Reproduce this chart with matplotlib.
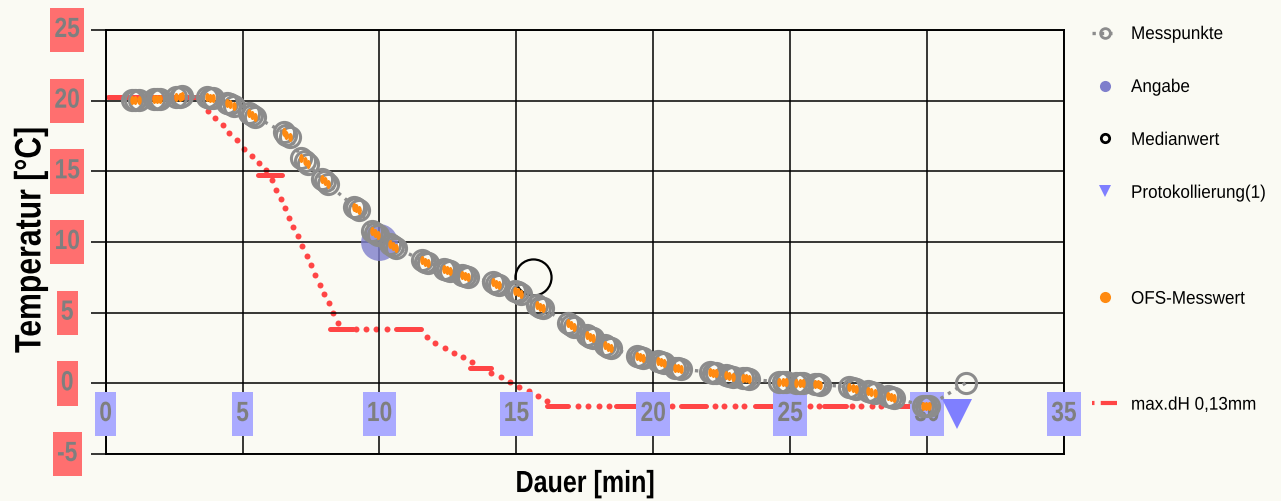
import matplotlib
matplotlib.use("Agg")
import matplotlib.pyplot as plt
from matplotlib.lines import Line2D
from matplotlib.path import Path
from matplotlib.markers import MarkerStyle
from matplotlib.transforms import Affine2D
from matplotlib.patheffects import AbstractPathEffect

plt.rcParams["font.family"] = ["Liberation Sans", "DejaVu Sans"]

# --- data ---
# Messpunkte (gray open circles), time in min, temperature in degC
mess_x = [0.95, 1.07, 1.20, 1.75, 1.87, 1.98, 2.58, 2.70, 2.80, 3.70, 3.82, 3.93,
          4.42, 4.55, 4.67, 5.22, 5.33, 5.45, 6.50, 6.60, 6.72, 7.15, 7.27, 7.38,
          7.90, 8.00, 8.12, 9.08, 9.16, 9.26, 9.72, 9.83, 9.94, 10.40, 10.50, 10.62,
          11.55, 11.65, 11.76, 12.35, 12.45, 12.56, 13.00, 13.11, 13.22, 14.15, 14.27, 14.38,
          14.95, 15.06, 15.17, 15.75, 15.85, 15.96, 16.90, 17.00, 17.12, 17.58, 17.68, 17.80,
          18.24, 18.34, 18.45, 19.40, 19.50, 19.62, 20.18, 20.29, 20.40, 20.80, 20.90, 21.00,
          22.06, 22.18, 22.30, 22.66, 22.78, 22.90, 23.28, 23.39, 23.50, 24.60, 24.73, 24.85,
          25.22, 25.34, 25.46, 25.90, 26.00, 26.10, 27.16, 27.28, 27.40, 27.85, 27.96, 28.08,
          28.58, 28.69, 28.80, 29.86, 29.96, 30.06, 31.42]
mess_y = [20.04, 20.05, 20.05, 20.12, 20.14, 20.15, 20.27, 20.28, 20.30, 20.25, 20.22, 20.18,
          19.85, 19.75, 19.63, 19.12, 19.00, 18.88, 17.75, 17.60, 17.42, 15.95, 15.72, 15.50,
          14.45, 14.30, 14.10, 12.50, 12.40, 12.30, 10.80, 10.64, 10.50, 9.85, 9.74, 9.60,
          8.70, 8.62, 8.55, 8.12, 8.04, 7.95, 7.70, 7.61, 7.52, 7.15, 7.06, 6.98,
          6.55, 6.43, 6.30, 5.55, 5.43, 5.30, 4.25, 4.13, 4.00, 3.42, 3.31, 3.20,
          2.68, 2.60, 2.50, 1.90, 1.84, 1.78, 1.58, 1.53, 1.47, 1.12, 1.06, 1.00,
          0.80, 0.75, 0.70, 0.56, 0.52, 0.48, 0.38, 0.35, 0.31, 0.08, 0.07, 0.06,
          0.02, 0.00, -0.01, -0.05, -0.07, -0.09, -0.25, -0.31, -0.37, -0.52, -0.60, -0.68,
          -0.88, -0.95, -1.03, -1.58, -1.59, -1.60, 0.04]

# OFS-Messwert: same samples, the last Messpunkt has no OFS value
ofs_x = mess_x[:-1]
ofs_y = mess_y[:-1]

angabe_x, angabe_y = [10.0], [10.0]
median_x, median_y = [15.6], [7.55]
protokoll_x, protokoll_y = [31.1], [-2.15]

# max.dH 0,13mm: plateaus (dense runs) and single points
dh_plateau_start = [0.10, 5.56, 8.19, 10.62, 13.30, 16.10, 18.65, 21.02, 23.70, 26.25, 28.90]
dh_plateau_end = [3.45, 6.44, 9.03, 11.53, 14.09, 16.88, 19.38, 21.93, 24.50, 27.05, 29.80]
dh_plateau_level = [20.25, 14.75, 3.85, 3.83, 1.10, -1.61, -1.61, -1.61, -1.61, -1.61, -1.61]
dh_x = [3.75, 4.00, 4.27, 4.50, 4.78, 5.05, 5.33, 5.60, 5.84, 6.06, 6.22, 6.39, 6.54,
        6.69, 6.84, 7.01, 7.18, 7.34, 7.49, 7.66, 7.83, 7.99, 8.15, 8.31, 8.47,
        9.14, 9.49, 9.89, 10.26,
        11.72, 12.02, 12.38, 12.72, 13.05, 13.39,
        14.09, 14.42, 14.76, 15.09, 15.45, 15.79, 16.12,
        17.25, 17.61, 18.00, 18.38, 20.69,
        22.24, 22.60, 22.97, 23.33, 25.71, 26.07,
        27.24, 27.60, 27.97, 28.33]
dh_y = [19.30, 18.80, 18.30, 17.70, 17.20, 16.60, 16.10, 15.60, 15.10, 14.42, 13.70, 13.05, 12.38,
        11.72, 11.08, 10.40, 9.69, 9.03, 8.34, 7.66, 6.97, 6.31, 5.65, 4.99, 4.30,
        3.87, 3.87, 3.87, 3.87,
        3.26, 2.88, 2.48, 2.13, 1.84, 1.49,
        0.75, 0.43, 0.11, -0.24, -0.52, -0.88, -1.26,
        -1.61, -1.61, -1.61, -1.61, -1.61,
        -1.61, -1.61, -1.61, -1.61, -1.61, -1.61,
        -1.61, -1.61, -1.61, -1.61]

x_ticks = [0, 5, 10, 15, 20, 25, 30, 35]
x_tick_labels = ["0", "5", "10", "15", "20", "25", "30", "35"]
y_ticks = [-5, 0, 5, 10, 15, 20, 25]
y_tick_labels = ["-5", "0", "5", "10", "15", "20", "25"]

bg = "#fafaf3"
gray = "#8c8c8c"
red = "#ff4545"
orange = "#ff8a10"
violet = "#7f7fcc"
blue_tri = "#7f7fff"
NARROW = 0.82  # the original uses a condensed face
LEG_FS = 13.2


class Narrow(AbstractPathEffect):
    """squeeze text horizontally (no condensed font installed)"""

    def __init__(self, sx=NARROW, anchor="center"):
        super().__init__()
        self.sx = sx
        self.anchor = anchor

    def draw_path(self, renderer, gc, tpath, affine, rgbFace=None):
        ext = tpath.get_extents()
        cx = 0.0 if self.anchor == "left" else 0.5 * (ext.x0 + ext.x1)
        squeeze = Affine2D().translate(-cx, 0).scale(self.sx, 1).translate(cx, 0)
        renderer.draw_path(gc, tpath, squeeze + affine, rgbFace)


def label_box(x0, y0, width, height, mutation_size):
    # box around the squeezed text, larger vertical padding
    cx = x0 + width / 2
    half = NARROW * width / 2 + 0.15 * mutation_size
    py = 0.33 * mutation_size
    bx0, bx1 = cx - half, cx + half
    by0, by1 = y0 - py, y0 + height + py
    return Path([(bx0, by0), (bx1, by0), (bx1, by1), (bx0, by1), (bx0, by0)],
                [Path.MOVETO, Path.LINETO, Path.LINETO, Path.LINETO, Path.CLOSEPOLY])


fig = plt.figure(figsize=(12.81, 5.01), dpi=100, facecolor=bg)
ax = fig.add_axes([0.0825, 0.0938, 0.7481, 0.8463], facecolor=bg)
ax.set_xlim(0, 35)
ax.set_ylim(-5, 25)

ax.grid(True, color="black", linewidth=1.1)
ax.set_axisbelow(False)
for sp in ax.spines.values():
    sp.set_linewidth(1.4)

# max.dH curve
ax.hlines(dh_plateau_level, dh_plateau_start, dh_plateau_end, colors=red,
          linewidth=3.6, capstyle="round", zorder=2)
ax.plot(dh_x, dh_y, linestyle="none", marker="o", ms=4.3, mew=0, color=red, zorder=2)

# Angabe / Medianwert / Protokollierung
ax.plot(angabe_x, angabe_y, linestyle="none", marker="o", ms=26.5, mew=0,
        color=violet, alpha=0.8, zorder=2.6)
ax.plot(median_x, median_y, linestyle="none", marker="o", ms=26, mfc="none",
        mec="black", mew=1.6, zorder=2.8)
ax.plot(protokoll_x, protokoll_y, linestyle="none", marker="v", ms=22, mew=0,
        color=blue_tri, zorder=3)

# Messpunkte + OFS
ax.plot(mess_x, mess_y, linestyle=(0, (1, 1.6)), linewidth=2.4, color=gray,
        marker="o", ms=14.5, mfc="none", mec=gray, mew=2.2, zorder=3)
ofs_marker = MarkerStyle("o", transform=Affine2D().scale(0.5, 1.0))
ax.plot(ofs_x, ofs_y, linestyle="none", marker=ofs_marker, ms=6.5, mew=0,
        color=orange, zorder=3.1)

# ticks with coloured boxes
ax.set_xticks(x_ticks)
ax.set_xticklabels(x_tick_labels)
ax.set_yticks(y_ticks)
ax.set_yticklabels(y_tick_labels)
ax.tick_params(axis="x", length=0, pad=-28.8, labelsize=20, labelcolor="#7f7f7f")
ax.tick_params(axis="y", length=11, width=1.1, pad=16.7, labelsize=20, labelcolor="#7f7f7f")
for lab in ax.get_xticklabels():
    lab.set_fontweight("bold")
    lab.set_va("center")
    lab.set_bbox(dict(boxstyle=label_box, facecolor="#aaaaff", edgecolor="none"))
    lab.set_path_effects([Narrow()])
for lab in ax.get_yticklabels():
    lab.set_fontweight("bold")
    lab.set_ha("center")
    lab.set_va("center")
    lab.set_bbox(dict(boxstyle=label_box, facecolor="#ff6f6f", edgecolor="none"))
    lab.set_path_effects([Narrow()])

ax.set_xlabel("Dauer [min]", fontsize=22, fontweight="bold")
ax.xaxis.label.set_va("center")
ax.xaxis.set_label_coords(0.5, -0.0708)
ax.xaxis.label.set_path_effects([Narrow()])
ax.set_ylabel("Temperatur [°C]", fontsize=26.5, fontweight="bold")
ax.yaxis.label.set_va("center")
ax.yaxis.set_label_coords(-0.078, 0.505)
ax.yaxis.label.set_path_effects([Narrow()])

# legend
blank = Line2D([], [], linestyle="none")
handles = [
    Line2D([], [], color=gray, linestyle=(0, (1, 1.5)), linewidth=2.4, marker="o",
           ms=7, mfc="none", mec=gray, mew=2),
    Line2D([], [], linestyle="none", marker="o", ms=8, mew=0, color=violet),
    Line2D([], [], linestyle="none", marker="o", ms=6, mfc="none", mec="black", mew=2),
    Line2D([], [], linestyle="none", marker="v", ms=8, mew=0, color=blue_tri),
    blank,
    Line2D([], [], linestyle="none", marker="o", ms=8, mew=0, color=orange),
    blank,
    Line2D([], [], color=red, linewidth=3, linestyle=(0, (0.6, 1.5, 4, 1))),
]
labels = ["Messpunkte", "Angabe", "Medianwert", "Protokollierung(1)", " ",
          "OFS-Messwert", " ", "max.dH 0,13mm"]
# row pitch 53 px, handle box 25 px, text starting at x = 1131 px
fs_px = LEG_FS * 100 / 72
leg = fig.legend(handles, labels, loc="upper left",
                 bbox_to_anchor=(1092 / 1281, 1 - 26 / 501),
                 frameon=False, fontsize=LEG_FS, borderpad=0, borderaxespad=0,
                 handlelength=25 / fs_px, handletextpad=14 / fs_px,
                 labelspacing=(53 - 0.93 * fs_px) / fs_px)
for t in leg.get_texts():
    t.set_path_effects([Narrow(sx=NARROW * 15 / LEG_FS, anchor="left")])

fig.savefig("out.png", dpi=100, facecolor=bg)
